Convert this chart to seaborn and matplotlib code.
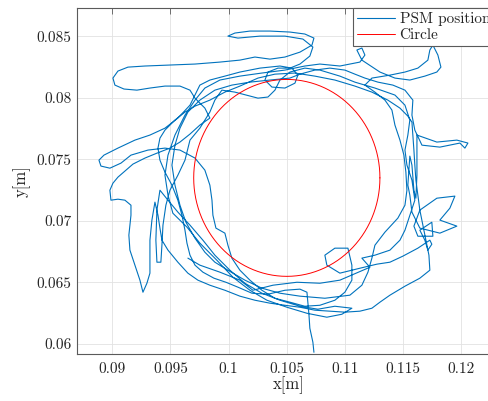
import numpy as np
import pandas as pd
import matplotlib
matplotlib.use("Agg")
import matplotlib.pyplot as plt
import seaborn as sns

# PSM tool-tip trajectory [m], recorded as five consecutive passes
pass1_x = [0.10733, 0.10724, 0.10698, 0.10690, 0.10681, 0.10673, 0.10613, 0.10484, 0.10338, 0.10200,
           0.10080, 0.09977, 0.09874, 0.09779, 0.09711, 0.09668, 0.09642, 0.09625, 0.09599, 0.09564,
           0.09513, 0.09453, 0.09410, 0.09393, 0.09410, 0.09453, 0.09539, 0.09625, 0.09711, 0.09839,
           0.09968, 0.10097, 0.10252, 0.10398, 0.10570, 0.10741, 0.10913, 0.11085, 0.11231, 0.11368,
           0.11472, 0.11540, 0.11575, 0.11583, 0.11592, 0.11600, 0.11609, 0.11626, 0.11643, 0.11669,
           0.11695, 0.11721, 0.11729, 0.11643, 0.11515, 0.11386, 0.11300, 0.11231, 0.11128, 0.10999,
           0.10870, 0.10741, 0.10613, 0.10484, 0.10355, 0.10226, 0.10097]
pass1_y = [0.05933, 0.06015, 0.06128, 0.06242, 0.06340, 0.06421, 0.06446, 0.06437, 0.06405, 0.06413,
           0.06462, 0.06502, 0.06535, 0.06584, 0.06641, 0.06722, 0.06820, 0.06925, 0.07047, 0.07169,
           0.07291, 0.07397, 0.07494, 0.07592, 0.07673, 0.07738, 0.07820, 0.07885, 0.07933, 0.07982,
           0.08047, 0.08096, 0.08161, 0.08193, 0.08202, 0.08177, 0.08145, 0.08096, 0.08047, 0.07982,
           0.07917, 0.07852, 0.07803, 0.07698, 0.07576, 0.07454, 0.07332, 0.07210, 0.07088, 0.06966,
           0.06844, 0.06722, 0.06600, 0.06535, 0.06470, 0.06397, 0.06340, 0.06291, 0.06267, 0.06259,
           0.06267, 0.06275, 0.06299, 0.06315, 0.06332, 0.06356, 0.06389]

pass2_x = [0.09968, 0.09839, 0.09736, 0.09650, 0.09564, 0.09479, 0.09427, 0.09410, 0.09393, 0.09367,
           0.09341, 0.09324, 0.09324, 0.09324, 0.09298, 0.09264, 0.09238, 0.09195, 0.09152, 0.09143,
           0.09161, 0.09161, 0.09109, 0.09049, 0.08989, 0.08980, 0.09006, 0.09049, 0.09118, 0.09178,
           0.09281, 0.09384, 0.09496, 0.09582, 0.09668, 0.09753, 0.09839, 0.09796, 0.09711, 0.09668,
           0.09582, 0.09453, 0.09324, 0.09212, 0.09101, 0.09023, 0.09006, 0.09049, 0.09135, 0.09281,
           0.09496, 0.09711, 0.09925, 0.10097, 0.10226, 0.10355, 0.10484, 0.10613, 0.10716, 0.10733,
           0.10655, 0.10527, 0.10355, 0.10183, 0.10054, 0.09994, 0.10080, 0.10269, 0.10484, 0.10638,
           0.10724, 0.10698, 0.10613, 0.10527, 0.10424, 0.10338, 0.10312, 0.10372, 0.10484, 0.10570,
           0.10595, 0.10544, 0.10441, 0.10269, 0.10097, 0.09968, 0.09839, 0.09753, 0.09711, 0.09668]
pass2_y = [0.06437, 0.06478, 0.06519, 0.06576, 0.06665, 0.06763, 0.06844, 0.06942, 0.07047, 0.07153,
           0.07007, 0.06844, 0.06681, 0.06576, 0.06494, 0.06421, 0.06519, 0.06641, 0.06763, 0.06885,
           0.07047, 0.07128, 0.07169, 0.07177, 0.07169, 0.07250, 0.07307, 0.07356, 0.07413, 0.07462,
           0.07511, 0.07551, 0.07592, 0.07641, 0.07706, 0.07779, 0.07836, 0.07917, 0.07998, 0.08063,
           0.08096, 0.08096, 0.08080, 0.08063, 0.08072, 0.08104, 0.08161, 0.08218, 0.08250, 0.08259,
           0.08267, 0.08275, 0.08291, 0.08307, 0.08332, 0.08315, 0.08332, 0.08372, 0.08429, 0.08486,
           0.08519, 0.08535, 0.08543, 0.08543, 0.08527, 0.08502, 0.08486, 0.08502, 0.08502, 0.08478,
           0.08413, 0.08340, 0.08275, 0.08242, 0.08242, 0.08210, 0.08145, 0.08088, 0.08080, 0.08120,
           0.08185, 0.08242, 0.08259, 0.08242, 0.08210, 0.08177, 0.08145, 0.08104, 0.08023, 0.07941]

pass3_x = [0.09564, 0.09453, 0.09324, 0.09195, 0.09049, 0.08929, 0.08886, 0.08903, 0.08980, 0.09075,
           0.09161, 0.09307, 0.09453, 0.09582, 0.09711, 0.09796, 0.09839, 0.09857, 0.09865, 0.09891,
           0.09968, 0.09994, 0.10028, 0.10097, 0.10183, 0.10286, 0.10398, 0.10527, 0.10655, 0.10784,
           0.10913, 0.10999, 0.11059, 0.11059, 0.11025, 0.10913, 0.10827, 0.10844, 0.10956, 0.11128,
           0.11274, 0.11386, 0.11497, 0.11626, 0.11729, 0.11746, 0.11712, 0.11686, 0.11643, 0.11746,
           0.11755, 0.11626, 0.11592, 0.11643, 0.11789, 0.11944, 0.11901, 0.11815, 0.11961, 0.11815,
           0.11643, 0.11575, 0.11557, 0.11540, 0.11549, 0.11557, 0.11575, 0.11592, 0.11609, 0.11618,
           0.11618, 0.11618, 0.11789, 0.11961, 0.12056, 0.12030, 0.11987, 0.11815, 0.11661, 0.11600,
           0.11575, 0.11583, 0.11515, 0.11411, 0.11283, 0.11171, 0.11085, 0.10999, 0.10870, 0.10741,
           0.10613, 0.10527, 0.10355, 0.10183, 0.10028, 0.09882, 0.09753, 0.09650]
pass3_y = [0.07836, 0.07754, 0.07698, 0.07657, 0.07592, 0.07535, 0.07494, 0.07446, 0.07429, 0.07470,
           0.07535, 0.07576, 0.07592, 0.07576, 0.07511, 0.07413, 0.07291, 0.07169, 0.07047, 0.06942,
           0.06901, 0.06803, 0.06698, 0.06600, 0.06519, 0.06437, 0.06372, 0.06340, 0.06307, 0.06315,
           0.06356, 0.06421, 0.06519, 0.06641, 0.06779, 0.06779, 0.06722, 0.06641, 0.06576, 0.06616,
           0.06649, 0.06665, 0.06714, 0.06779, 0.06844, 0.06811, 0.06763, 0.06844, 0.06925, 0.06990,
           0.06876, 0.06876, 0.06958, 0.07088, 0.07185, 0.07202, 0.07104, 0.07007, 0.06958, 0.06901,
           0.06942, 0.07072, 0.07210, 0.07291, 0.07413, 0.07527, 0.07454, 0.07250, 0.07185, 0.07372,
           0.07576, 0.07698, 0.07641, 0.07657, 0.07633, 0.07592, 0.07633, 0.07600, 0.07616, 0.07738,
           0.07860, 0.07982, 0.08063, 0.08104, 0.08128, 0.08161, 0.08193, 0.08226, 0.08242, 0.08226,
           0.08193, 0.08161, 0.08145, 0.08128, 0.08104, 0.08063, 0.07982, 0.07885]

pass4_x = [0.09582, 0.09539, 0.09513, 0.09539, 0.09582, 0.09633, 0.09711, 0.09796, 0.09882, 0.09994,
           0.10140, 0.10286, 0.10441, 0.10613, 0.10827, 0.11042, 0.11145, 0.11197, 0.11231, 0.11257,
           0.11343, 0.11454, 0.11515, 0.11532, 0.11523, 0.11506, 0.11472, 0.11429, 0.11403, 0.11343,
           0.11257, 0.11171, 0.11231, 0.11386, 0.11515, 0.11626, 0.11712, 0.11729, 0.11755, 0.11798,
           0.11824, 0.11789, 0.11686, 0.11557, 0.11429, 0.11300, 0.11145, 0.11102, 0.11145, 0.11171,
           0.11128, 0.10956, 0.10784]
pass4_y = [0.07754, 0.07616, 0.07454, 0.07291, 0.07128, 0.06990, 0.06860, 0.06746, 0.06665, 0.06600,
           0.06519, 0.06454, 0.06413, 0.06389, 0.06372, 0.06397, 0.06478, 0.06584, 0.06698, 0.06803,
           0.06909, 0.07023, 0.07128, 0.07250, 0.07397, 0.07535, 0.07657, 0.07779, 0.07901, 0.07982,
           0.08047, 0.08104, 0.08161, 0.08185, 0.08210, 0.08242, 0.08307, 0.08389, 0.08429, 0.08348,
           0.08250, 0.08210, 0.08177, 0.08145, 0.08161, 0.08210, 0.08307, 0.08389, 0.08405, 0.08348,
           0.08291, 0.08259, 0.08275]

pass5_x = [0.10655, 0.10484, 0.10286, 0.10097, 0.09925, 0.09796, 0.09711, 0.09625, 0.09539, 0.09479,
           0.09453, 0.09479, 0.09521, 0.09642, 0.09753, 0.09899, 0.10037, 0.10183, 0.10329, 0.10501,
           0.10673, 0.10844, 0.10973, 0.11059, 0.10913, 0.10767, 0.10613, 0.10441, 0.10286, 0.10140,
           0.10011, 0.09882, 0.09779, 0.09668, 0.09564, 0.09479, 0.09410, 0.09384, 0.09375, 0.09384,
           0.09418, 0.09427, 0.09436, 0.09461, 0.09496, 0.09564, 0.09625, 0.09668, 0.09753, 0.09839,
           0.09882, 0.09942, 0.10054, 0.10252, 0.10338, 0.10398, 0.10441, 0.10527, 0.10655, 0.10784,
           0.10956, 0.11085, 0.11257, 0.11429, 0.11515, 0.11557, 0.11540, 0.11515, 0.11532, 0.11575,
           0.11600, 0.11557, 0.11515, 0.11472, 0.11386, 0.11257, 0.11145, 0.11214, 0.10956, 0.10784,
           0.10587, 0.10381, 0.10209, 0.10097, 0.09925, 0.09753, 0.09650]
pass5_y = [0.08259, 0.08226, 0.08202, 0.08177, 0.08145, 0.08080, 0.07982, 0.07860, 0.07698, 0.07535,
           0.07372, 0.07210, 0.07063, 0.06950, 0.06820, 0.06681, 0.06543, 0.06437, 0.06356, 0.06299,
           0.06250, 0.06218, 0.06242, 0.06291, 0.06307, 0.06283, 0.06307, 0.06356, 0.06413, 0.06494,
           0.06600, 0.06722, 0.06844, 0.06966, 0.07072, 0.07169, 0.07250, 0.07088, 0.06844, 0.06665,
           0.06665, 0.06803, 0.06966, 0.07128, 0.07250, 0.07372, 0.07494, 0.07657, 0.07754, 0.07885,
           0.07982, 0.08063, 0.08047, 0.07998, 0.08007, 0.08063, 0.08145, 0.08210, 0.08242, 0.08226,
           0.08177, 0.08128, 0.08080, 0.08023, 0.07941, 0.07820, 0.07698, 0.07576, 0.07454, 0.07332,
           0.07169, 0.07047, 0.06925, 0.06844, 0.06763, 0.06722, 0.06698, 0.06624, 0.06519, 0.06494,
           0.06502, 0.06478, 0.06437, 0.06519, 0.06584, 0.06641, 0.06698]

# reference circle
circle_center = (0.105, 0.0735)
circle_radius = 0.008

x_ticks = [0.09, 0.095, 0.1, 0.105, 0.11, 0.115, 0.12]
x_tick_labels = ["0.09", "0.095", "0.1", "0.105", "0.11", "0.115", "0.12"]
y_ticks = [0.06, 0.065, 0.07, 0.075, 0.08, 0.085]
y_tick_labels = ["0.06", "0.065", "0.07", "0.075", "0.08", "0.085"]

sns.set_style("white")
plt.rcParams.update({
    "font.family": ["cmr10", "DejaVu Serif"],
    "mathtext.fontset": "cm",
    "axes.formatter.use_mathtext": True,
    "axes.unicode_minus": False,
})

psm = pd.DataFrame({
    "x": pass1_x + pass2_x + pass3_x + pass4_x + pass5_x,
    "y": pass1_y + pass2_y + pass3_y + pass4_y + pass5_y,
})
theta = np.linspace(0.0, 2.0 * np.pi, 361)
circle = pd.DataFrame({
    "x": circle_center[0] + circle_radius * np.cos(theta),
    "y": circle_center[1] + circle_radius * np.sin(theta),
})

fig = plt.figure(figsize=(4.89, 4.01), dpi=100)
ax = fig.add_axes([0.1569, 0.1172, 0.8652, 0.8621])

sns.lineplot(data=psm, x="x", y="y", sort=False, estimator=None, ax=ax,
             color="#0072BD", linewidth=0.8, label="PSM position")
sns.lineplot(data=circle, x="x", y="y", sort=False, estimator=None, ax=ax,
             color="#FF0000", linewidth=0.7, label="Circle")

ax.set_xlim(0.08695, 0.1233)
ax.set_ylim(0.05919, 0.08728)
ax.set_xticks(x_ticks)
ax.set_xticklabels(x_tick_labels)
ax.set_yticks(y_ticks)
ax.set_yticklabels(y_tick_labels)

ax.grid(True, color="#e2e2e2", linewidth=0.6)
ax.set_axisbelow(True)
for s in ax.spines.values():
    s.set_color("#5a5a5a")
    s.set_linewidth(0.8)
ax.tick_params(direction="in", length=4, width=0.6, color="#5a5a5a",
               top=True, right=True, labelsize=11, labelcolor="#262626")
ax.tick_params(axis="x", pad=6)
ax.tick_params(axis="y", pad=4)

ax.set_xlabel("x[m]", fontsize=12, color="#262626", labelpad=0)
ax.set_ylabel("y[m]", fontsize=12, color="#262626", labelpad=4)

leg = ax.legend(loc="upper left", bbox_to_anchor=(0.653, 1.0), borderaxespad=0,
                frameon=True, fancybox=False, framealpha=1, edgecolor="#5a5a5a",
                fontsize=11, handlelength=2.5, handletextpad=0.3,
                borderpad=0.25, labelspacing=0.15)
leg.get_frame().set_linewidth(0.8)
for t in leg.get_texts():
    t.set_color("#262626")

fig.savefig("out.png", dpi=100)
